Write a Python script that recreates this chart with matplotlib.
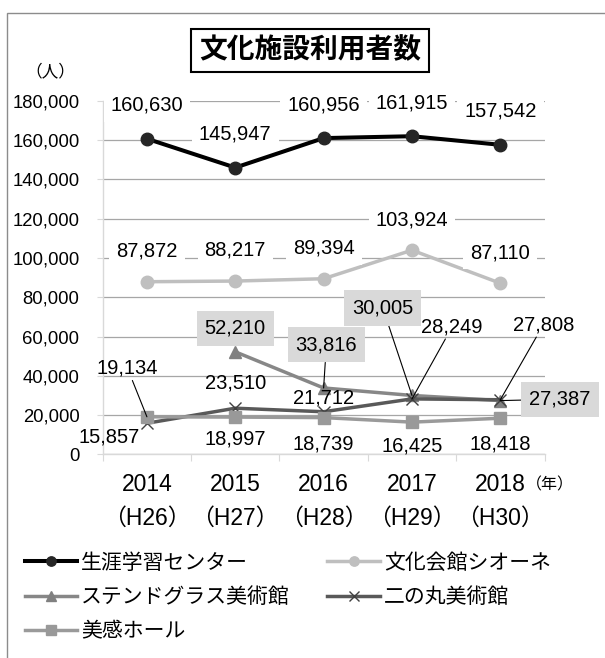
import matplotlib.pyplot as plt
import numpy as np
from matplotlib.patches import Rectangle

plt.rcParams['font.family'] = ['Liberation Sans', 'Noto Sans CJK JP']

# data
years = ['2014', '2015', '2016', '2017', '2018']
eras = ['（H26）', '（H27）', '（H28）', '（H29）', '（H30）']
names = ['生涯学習センター', '文化会館シオーネ', 'ステンドグラス美術館', '二の丸美術館', '美感ホール']
lifelong = [160630, 145947, 160956, 161915, 157542]
sione = [87872, 88217, 89394, 103924, 87110]
stained = [np.nan, 52210, 33816, 30005, 27387]
ninomaru = [15857, 23510, 21712, 28249, 27808]
bikan = [19134, 18997, 18739, 16425, 18418]

fig = plt.figure(figsize=(6.05, 6.58), dpi=100)
ax = fig.add_axes([0.1698, 0.3094, 0.7302, 0.5376])
x = np.arange(len(years))

styles = [
    dict(color='#000000', marker='o', ms=9, mfc='#262626', mec='#262626', lw=2.9),
    dict(color='#bfbfbf', marker='o', ms=9, mfc='#bfbfbf', mec='#bfbfbf', lw=2.5),
    dict(color='#878787', marker='^', ms=9, mfc='#808080', mec='#808080', lw=2.5),
    dict(color='#595959', marker='x', ms=9, mfc='none', mec='#404040', mew=1.0, lw=2.5),
    dict(color='#9a9a9a', marker='s', ms=9, mfc='#999999', mec='#999999', lw=2.5),
]
all_values = [lifelong, sione, stained, ninomaru, bikan]

lines = []
for name, vals, st in zip(names, all_values, styles):
    ln, = ax.plot(x, vals, label=name, **st)
    lines.append(ln)

white = dict(boxstyle='square,pad=0.35', fc='white', ec='none')
grey = dict(boxstyle='square,pad=0.4', fc='#d9d9d9', ec='none')

# label offsets in points: (dx, dy, box, leader)
offsets = [
    [(0, 24, white, False)] * 5,
    [(0, 22, white, False)] * 5,
    [None, (0, 17, grey, False), (2, 31, grey, True), (-21, 63, grey, True), (43, 1, grey, True)],
    [(-27, -10, None, False), (0, 18, None, False), (0, 10, None, False),
     (29, 52, None, True), (31, 54, None, True)],
    [(-14, 35, None, True), (0, -16, None, False), (0, -19, None, False),
     (0, -17, None, False), (0, -18.5, None, False)],
]

for vals, offs in zip(all_values, offsets):
    for xi, v, off in zip(x, vals, offs):
        if off is None or np.isnan(v):
            continue
        dx, dy, box, leader = off
        arrow = dict(arrowstyle='-', color='black', lw=0.8, shrinkA=0, shrinkB=0) if leader else None
        ax.annotate(f'{int(v):,}', xy=(xi, v), xytext=(dx, dy), textcoords='offset points',
                    ha='center', va='center', fontsize=14.5, bbox=box, arrowprops=arrow, zorder=5)

ax.set_xlim(-0.5, 4.5)
ax.set_ylim(0, 180000)
ax.set_yticks(range(0, 180001, 20000))
ax.set_yticklabels([f'{t:,}' for t in range(0, 180001, 20000)], fontsize=13.3)
ax.tick_params(axis='y', length=4.3, width=0.8, color='#d9d9d9', pad=12.5)

ax.set_xticks(x)
ax.set_xticks(np.arange(-0.5, 5, 1), minor=True)
ax.tick_params(axis='x', which='major', length=0, labelbottom=False)
ax.tick_params(axis='x', which='minor', length=5, width=0.8, color='#d9d9d9')

for xi, yr, era in zip(x, years, eras):
    ax.annotate(yr, xy=(xi, 0), xycoords=('data', 'axes fraction'), xytext=(0, -21.5),
                textcoords='offset points', ha='center', va='center', fontsize=16.5)
    ax.annotate(era, xy=(xi, 0), xycoords=('data', 'axes fraction'), xytext=(0, -46),
                textcoords='offset points', ha='center', va='center', fontsize=16.5)
ax.annotate('（年）', xy=(x[-1], 0), xycoords=('data', 'axes fraction'), xytext=(36, -22),
            textcoords='offset points', ha='center', va='center', fontsize=11.5)

for side in ['top', 'right']:
    ax.spines[side].set_visible(False)
for side in ['left', 'bottom']:
    ax.spines[side].set_color('#d9d9d9')
    ax.spines[side].set_linewidth(1.0)
ax.yaxis.grid(True, color='#a6a6a6', lw=0.9)
ax.set_axisbelow(True)

fig.text(310 / 605, 1 - 50.7 / 658, '文化施設利用者数', ha='center', va='center',
         fontsize=20, fontweight='bold',
         bbox=dict(boxstyle='square,pad=0.3', fc='white', ec='black', lw=1.5))
fig.text(50 / 605, 1 - 71.7 / 658, '（人）', ha='center', va='center', fontsize=12)

# legend in row order: col 1 = series 1,3,5 ; col 2 = series 2,4
order = [0, 2, 4, 1, 3]
fig.legend([lines[i] for i in order], [names[i] for i in order], ncol=2,
           loc='upper left', bbox_to_anchor=(25 / 605, 1 - 553 / 658),
           frameon=False, fontsize=15, handlelength=2.5, handletextpad=0.2,
           columnspacing=1.8, labelspacing=0.72, borderpad=0, borderaxespad=0,
           markerscale=0.75)

# chart outer border (cut off on right and bottom)
fig.add_artist(Rectangle((6.7 / 605, -0.02), 1.1, 1.02 - 12.7 / 658, transform=fig.transFigure,
                         fill=False, ec='#8c8c8c', lw=1.0))

fig.savefig('out.png', dpi=100)
